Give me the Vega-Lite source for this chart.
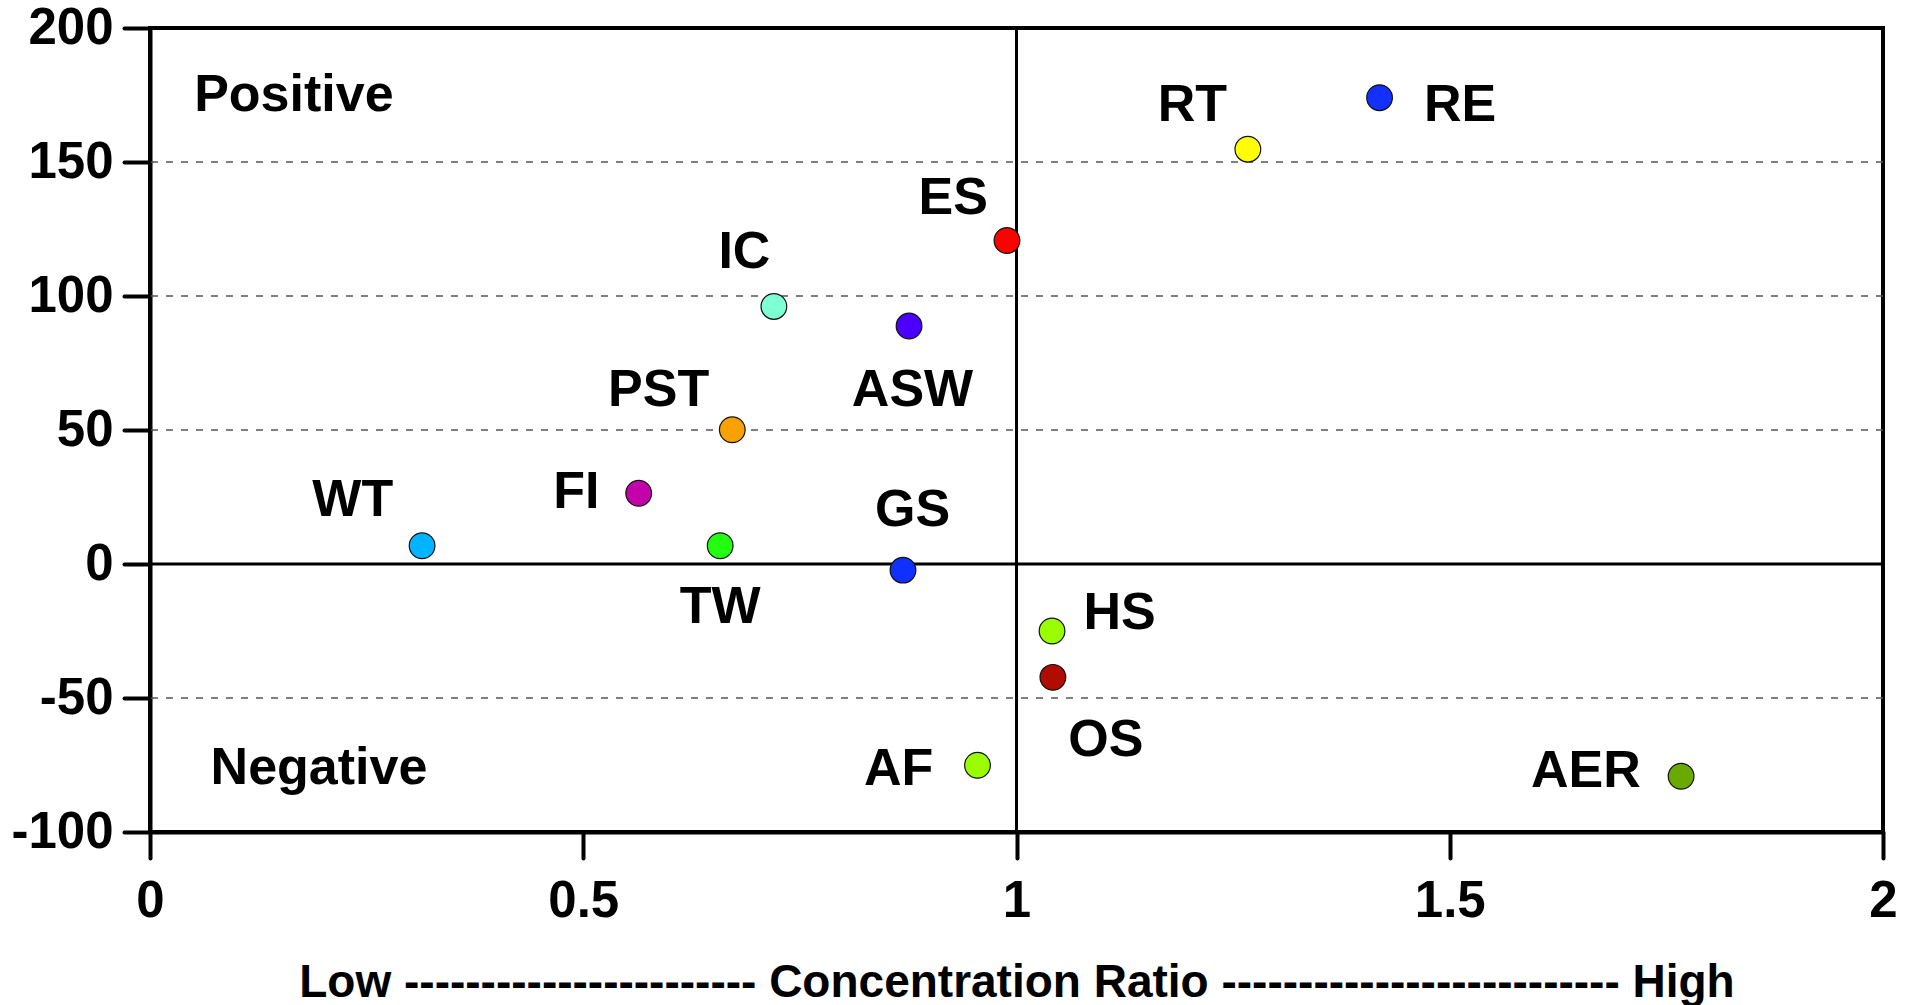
{
  "$schema": "https://vega.github.io/schema/vega-lite/v6.json",
  "width": 1733,
  "height": 804,
  "autosize": {"type": "none"},
  "padding": {"left": 150, "top": 28, "right": 31, "bottom": 173},
  "background": "white",
  "config": {
    "view": {"stroke": "black", "strokeWidth": 4},
    "font": "Liberation Sans",
    "axis": {
      "labelFont": "Liberation Sans", "labelFontSize": 51, "labelFontWeight": "bold", "labelColor": "black",
      "tickSize": 26, "tickWidth": 4, "tickColor": "black", "tickCap": "round",
      "domainColor": "black", "domainWidth": 4, "grid": false, "labelFlush": false, "labelOverlap": false,
      "titleFont": "Liberation Sans", "titleFontSize": 46, "titleFontWeight": "bold", "titleColor": "black"
    },
    "axisX": {"labelPadding": 18, "titlePadding": 34},
    "axisY": {"labelPadding": 11}
  },
  "datasets": {
    "points": [
      {"name": "WT", "ratio": 0.314, "value": 6.8},
      {"name": "FI", "ratio": 0.564, "value": 26.4},
      {"name": "TW", "ratio": 0.658, "value": 6.8},
      {"name": "PST", "ratio": 0.672, "value": 50.1},
      {"name": "IC", "ratio": 0.72, "value": 96.1},
      {"name": "ASW", "ratio": 0.876, "value": 88.8},
      {"name": "GS", "ratio": 0.869, "value": -2.3},
      {"name": "ES", "ratio": 0.989, "value": 120.7},
      {"name": "RT", "ratio": 1.267, "value": 154.8},
      {"name": "RE", "ratio": 1.419, "value": 174.0},
      {"name": "HS", "ratio": 1.041, "value": -25.0},
      {"name": "OS", "ratio": 1.042, "value": -42.3},
      {"name": "AF", "ratio": 0.955, "value": -75.1},
      {"name": "AER", "ratio": 1.767, "value": -79.2}
    ],
    "labels": [
      {"text": "Positive", "lx": 0.166, "ly": 174.9},
      {"text": "Negative", "lx": 0.195, "ly": -76.0},
      {"text": "WT", "lx": 0.234, "ly": 23.7},
      {"text": "FI", "lx": 0.492, "ly": 26.9},
      {"text": "TW", "lx": 0.658, "ly": -16.0},
      {"text": "PST", "lx": 0.587, "ly": 65.1},
      {"text": "IC", "lx": 0.686, "ly": 116.6},
      {"text": "ASW", "lx": 0.88, "ly": 65.1},
      {"text": "GS", "lx": 0.88, "ly": 20.0},
      {"text": "ES", "lx": 0.927, "ly": 136.6},
      {"text": "RT", "lx": 1.203, "ly": 171.2},
      {"text": "RE", "lx": 1.512, "ly": 171.2},
      {"text": "HS", "lx": 1.119, "ly": -18.2},
      {"text": "OS", "lx": 1.103, "ly": -65.6},
      {"text": "AF", "lx": 0.864, "ly": -76.6},
      {"text": "AER", "lx": 1.657, "ly": -77.1}
    ],
    "grid": [{"v": -50}, {"v": 50}, {"v": 100}, {"v": 150}],
    "zeroY": [{"v": 0}],
    "oneX": [{"v": 1}]
  },
  "layer": [
    {
      "data": {"name": "grid"},
      "mark": {"type": "rule", "color": "#555555", "strokeWidth": 1.5, "strokeDash": [7, 8]},
      "encoding": {
        "y": {"field": "v", "type": "quantitative", "scale": {"domain": [-100, 200], "nice": false, "zero": false},
              "axis": {"values": [-100, -50, 0, 50, 100, 150, 200], "labelExpr": "'' + datum.value", "title": null}}
      }
    },
    {
      "data": {"name": "zeroY"},
      "mark": {"type": "rule", "color": "black", "strokeWidth": 3},
      "encoding": {
        "y": {"field": "v", "type": "quantitative",
              "axis": {"values": [-100, -50, 0, 50, 100, 150, 200], "labelExpr": "'' + datum.value", "title": null}}
      }
    },
    {
      "data": {"name": "oneX"},
      "mark": {"type": "rule", "color": "black", "strokeWidth": 3},
      "encoding": {
        "x": {"field": "v", "type": "quantitative", "scale": {"domain": [0, 2], "nice": false},
              "axis": {"values": [0, 0.5, 1, 1.5, 2], "format": "~g", "title": "Low ----------------------- Concentration Ratio -------------------------- High"}}
      }
    },
    {
      "data": {"name": "points"},
      "mark": {"type": "circle", "size": 660, "opacity": 1, "stroke": "#111111", "strokeWidth": 1.2},
      "encoding": {
        "x": {"field": "ratio", "type": "quantitative",
              "axis": {"values": [0, 0.5, 1, 1.5, 2], "format": "~g", "title": "Low ----------------------- Concentration Ratio -------------------------- High"}},
        "y": {"field": "value", "type": "quantitative",
              "axis": {"values": [-100, -50, 0, 50, 100, 150, 200], "labelExpr": "'' + datum.value", "title": null}},
        "color": {
          "field": "name", "type": "nominal", "legend": null,
          "scale": {
            "domain": ["WT", "FI", "TW", "PST", "IC", "ASW", "GS", "ES", "RT", "RE", "HS", "OS", "AF", "AER"],
            "range": ["#00B4FF", "#C400AA", "#22FF11", "#F9A100", "#7FFFD4", "#4B00FF", "#1030FF", "#FF0000", "#FFFF00", "#1430FF", "#99FF00", "#B00D00", "#99FF00", "#6AAA00"]
          }
        }
      }
    },
    {
      "data": {"name": "labels"},
      "mark": {"type": "text", "font": "Liberation Sans", "fontSize": 52, "fontWeight": "bold", "color": "black", "align": "center", "baseline": "middle"},
      "encoding": {
        "x": {"field": "lx", "type": "quantitative",
              "axis": {"values": [0, 0.5, 1, 1.5, 2], "format": "~g", "title": "Low ----------------------- Concentration Ratio -------------------------- High"}},
        "y": {"field": "ly", "type": "quantitative",
              "axis": {"values": [-100, -50, 0, 50, 100, 150, 200], "labelExpr": "'' + datum.value", "title": null}},
        "text": {"field": "text", "type": "nominal"}
      }
    }
  ]
}
